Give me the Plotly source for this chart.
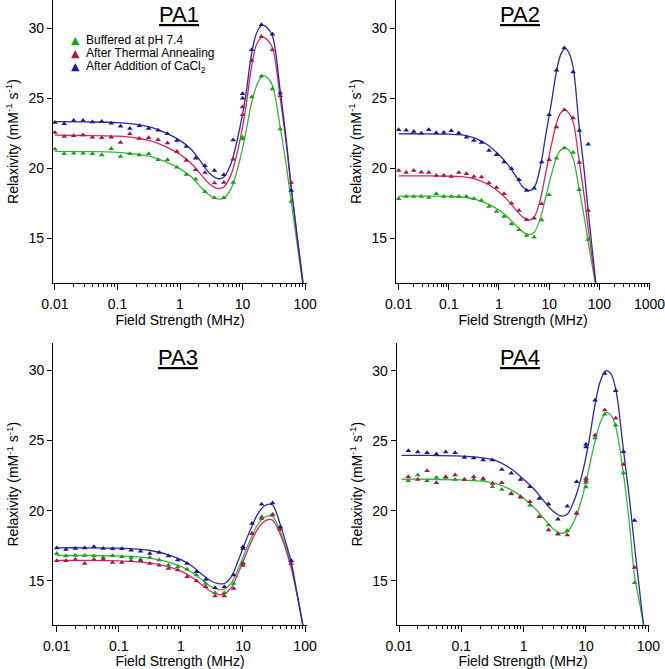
import plotly.graph_objects as go

# ---------------- data ----------------
FIELD_FFC = [0.01, 0.0141, 0.02, 0.0282, 0.0398, 0.0562, 0.0794, 0.112, 0.158, 0.224, 0.316,
             0.447, 0.631, 0.891, 1.26, 1.78, 2.51, 3.55, 5.01, 7.08, 10.0]
FIELD_HF = [10, 14, 20, 30, 40, 60]

pa1_field = FIELD_FFC + FIELD_HF
pa1_buffered = [21.36, 21.02, 21.07, 21.07, 21.02, 20.93, 21.38, 20.83, 21.02, 20.93, 21.02, 20.6, 20.6,
                20.07, 19.55, 19.21, 18.31, 17.88, 17.88, 18.98, 22.07, 22.2, 25.07, 26.55, 25.64, 22.79, 17.62]
pa1_annealed = [22.55, 22.26, 22.31, 22.36, 22.21, 22.17, 22.21, 21.83, 22.45, 22.12, 22.17, 22.02, 21.79,
                21.19, 20.55, 19.88, 19.69, 18.93, 18.98, 20.64, 24.36, 23.81, 27.69, 29.4, 28.45, 25.17, 18.98]
pa1_cacl2 = [23.26, 23.17, 23.4, 23.4, 23.29, 23.33, 23.2, 22.98, 22.83, 23.02, 22.83, 22.7, 22.45,
             21.98, 21.55, 20.7, 20.17, 19.83, 19.52, 22.0, 25.3, 24.98, 28.45, 30.24, 29.55, 25.36, 18.4]

pa2_field = FIELD_FFC + FIELD_HF[1:]
pa2_buffered = [17.81, 17.98, 17.98, 17.98, 17.9, 18.17, 17.98, 17.98, 17.98, 17.98, 17.81, 17.69, 17.26,
                16.9, 16.55, 16.02, 15.6, 15.19, 15.07, 16.3, 18.1, 20.71, 21.43, 21.12, 18.45, 14.9]
pa2_annealed = [19.83, 19.69, 19.83, 19.71, 19.69, 19.48, 19.48, 19.4, 19.69, 19.6, 19.4, 19.36, 18.93,
                18.62, 18.17, 17.5, 16.98, 16.31, 16.43, 17.45, 20.6, 22.93, 24.17, 23.57, 20.4, 16.98]
pa2_cacl2 = [22.74, 22.71, 22.62, 22.48, 22.74, 22.52, 22.55, 22.67, 22.5, 22.21, 21.98, 21.83, 21.26,
             20.95, 20.43, 19.95, 19.17, 18.4, 18.57, 20.43, 23.81, 26.98, 28.57, 26.86, 22.69, 21.71]

pa3_field = FIELD_FFC + FIELD_HF
pa3_buffered = [16.95, 16.76, 16.8, 16.8, 16.76, 16.66, 16.78, 16.71, 16.66, 16.52, 16.66, 16.47, 16.11,
                16.0, 15.81, 15.4, 14.81, 14.14, 14.14, 14.81, 16.28, 16.11, 18.37, 19.56, 19.75, 18.84, 16.42]
pa3_annealed = [16.42, 16.42, 16.52, 16.23, 16.52, 16.52, 16.3, 16.3, 16.42, 16.42, 16.23, 16.11, 15.88,
                15.76, 15.28, 15.0, 14.57, 13.91, 13.91, 14.45, 16.11, 16.23, 18.37, 19.44, 19.68, 18.65, 16.23]
pa3_cacl2 = [17.33, 17.23, 17.3, 17.33, 17.42, 17.3, 17.28, 17.28, 17.18, 17.11, 16.95, 17.02, 16.76,
             16.47, 16.23, 15.64, 15.09, 14.5, 14.57, 15.4, 17.42, 17.3, 19.08, 20.46, 20.55, 18.84, 16.42]

pa4_field = FIELD_FFC[1:] + FIELD_HF
pa4_buffered = [22.14, 22.55, 22.14, 22.38, 22.38, 22.24, 22.24, 22.24, 22.24, 21.71, 21.52, 21.19, 20.95,
                20.4, 19.57, 18.98, 18.38, 18.57, 19.86, 21.7, 22.0, 25.2, 26.9, 26.1, 22.7, 14.86]
pa4_annealed = [22.43, 22.24, 22.86, 22.0, 22.43, 22.55, 22.24, 22.43, 22.31, 21.95, 22.0, 21.24, 21.0,
                20.64, 19.57, 18.62, 18.33, 18.26, 19.81, 22.3, 22.15, 25.4, 27.2, 26.6, 23.3, 15.95]
pa4_cacl2 = [24.29, 24.19, 24.14, 24.05, 24.19, 24.14, 23.81, 23.76, 23.62, 23.62, 22.95, 22.67, 22.24,
             21.71, 20.88, 20.48, 19.4, 20.33, 22.07, 24.75, 24.55, 27.9, 29.81, 28.57, 24.21, 19.3]

# fitted curves, read at these fields
FIT_X = [0.01, 0.03, 0.1, 0.2, 0.35, 0.6, 1, 1.5, 2.2, 3, 4, 5, 6.5, 8.5, 11, 14, 17, 21, 25, 30, 40, 50, 60, 75, 95]
FIT_X4 = [0.011] + FIT_X[1:]

fit1_buffered = [21.2, 21.18, 21.13, 21.0, 20.8, 20.45, 19.95, 19.4, 18.6, 18.05, 17.8, 17.85, 18.5, 20.1,
                 22.3, 24.7, 25.95, 26.6, 26.45, 25.9, 22.9, 20.2, 17.6, 14.5, 11.2]
fit1_annealed = [22.35, 22.33, 22.28, 22.15, 21.92, 21.52, 20.98, 20.35, 19.5, 18.85, 18.55, 18.65, 19.5, 21.4,
                 24.0, 27.3, 28.9, 29.35, 29.15, 28.6, 25.0, 21.7, 18.6, 15.1, 11.5]
fit1_cacl2 = [23.32, 23.3, 23.25, 23.12, 22.9, 22.5, 21.98, 21.35, 20.4, 19.62, 19.25, 19.35, 20.3, 22.3,
              24.9, 28.2, 29.7, 30.2, 30.0, 29.45, 25.5, 22.0, 18.6, 15.0, 11.3]

fit2_buffered = [18.0, 18.0, 17.98, 17.92, 17.75, 17.45, 17.0, 16.5, 15.9, 15.45, 15.25, 15.4, 16.3, 17.9,
                 19.5, 20.75, 21.3, 21.45, 21.25, 20.7, 18.4, 16.5, 14.7, 12.7, 10.5]
fit2_annealed = [19.45, 19.45, 19.43, 19.37, 19.2, 18.85, 18.3, 17.7, 17.0, 16.5, 16.3, 16.5, 17.6, 19.6,
                 21.6, 23.2, 23.95, 24.15, 23.9, 23.3, 20.4, 18.0, 15.7, 13.1, 10.4]
fit2_cacl2 = [22.45, 22.45, 22.42, 22.35, 22.1, 21.65, 20.95, 20.25, 19.4, 18.65, 18.4, 18.6, 19.9, 22.3,
              24.6, 26.9, 28.1, 28.55, 28.2, 27.2, 22.8, 19.8, 16.9, 13.65, 10.2]

fit3_buffered = [16.8, 16.8, 16.77, 16.7, 16.58, 16.37, 16.02, 15.6, 15.05, 14.6, 14.38, 14.4, 14.85, 15.9,
                 17.1, 18.2, 18.95, 19.45, 19.62, 19.6, 18.5, 17.3, 16.1, 14.0, 11.6]
fit3_annealed = [16.45, 16.45, 16.42, 16.35, 16.23, 16.02, 15.68, 15.25, 14.7, 14.25, 14.02, 14.05, 14.5, 15.6,
                 16.8, 17.9, 18.65, 19.15, 19.35, 19.32, 18.3, 17.1, 15.9, 13.9, 11.5]
fit3_cacl2 = [17.35, 17.35, 17.32, 17.25, 17.12, 16.88, 16.5, 16.05, 15.45, 15.0, 14.8, 14.8, 15.3, 16.5,
              17.8, 18.9, 19.7, 20.25, 20.45, 20.4, 19.0, 17.6, 16.3, 14.0, 11.5]

fit4_buffered = [22.25, 22.25, 22.2, 22.12, 21.95, 21.55, 20.9, 20.2, 19.35, 18.7, 18.4, 18.5, 19.3, 20.8,
                 22.9, 25.0, 26.3, 27.0, 26.85, 26.0, 22.6, 19.0, 15.4, 13.05, 10.6]
fit4_cacl2 = [23.95, 23.95, 23.9, 23.8, 23.6, 23.05, 22.25, 21.5, 20.6, 19.95, 19.62, 19.75, 20.75, 22.45,
              24.8, 27.6, 29.25, 30.0, 29.8, 28.7, 24.3, 20.8, 17.5, 13.7, 9.7]

SERIES_NAMES = ["Buffered at pH 7.4", "After Thermal Annealing", "After Addition of CaCl<sub>2</sub>"]
PANEL_TITLES = ["PA1", "PA2", "PA3", "PA4"]
X_TICKS = [0.01, 0.1, 1, 10, 100, 1000]
X_TICK_TEXT = ["0.01", "0.1", "1", "10", "100", "1000"]
Y_TICKS = [15, 20, 25, 30]

# ---------------- styling ----------------
W, H = 665, 669
FONT = "Arial, Liberation Sans, sans-serif"
LINE_COL = ["#3db33d", "#d42a63", "#2a2a9e"]
MARK_COL = ["#1e9b1e", "#a31a4a", "#1a1a8a"]

panels = [
    dict(field=pa1_field, data=[pa1_buffered, pa1_annealed, pa1_cacl2],
         fx=FIT_X, fits=[fit1_buffered, fit1_annealed, fit1_cacl2],
         xpx=(53, 307), ypx=(0, 283), xr=[-2.03, 2.03], yr=[11.8, 32.0], title=(178.7, 15)),
    dict(field=pa2_field, data=[pa2_buffered, pa2_annealed, pa2_cacl2],
         fx=FIT_X, fits=[fit2_buffered, fit2_annealed, fit2_cacl2],
         xpx=(396, 650), ypx=(0, 283), xr=[-2.053, 3.01], yr=[11.8, 32.0], title=(520, 15)),
    dict(field=pa3_field, data=[pa3_buffered, pa3_annealed, pa3_cacl2],
         fx=FIT_X, fits=[fit3_buffered, fit3_annealed, fit3_cacl2],
         xpx=(53.3, 306.7), ypx=(343.3, 625), xr=[-2.055, 2.027], yr=[11.84, 31.94], title=(178.3, 358)),
    dict(field=pa4_field, data=[pa4_buffered, pa4_annealed, pa4_cacl2],
         fx=FIT_X4, fits=[fit4_buffered, None, fit4_cacl2],
         xpx=(396.7, 649.3), ypx=(343.3, 625), xr=[-2.037, 2.016], yr=[11.84, 31.96], title=(520, 358)),
]

minor_vals = [m * 10 ** e for e in range(-2, 3) for m in range(2, 10)]

fig = go.Figure()
annotations = []
for i, p in enumerate(panels):
    n = i + 1
    xa = "x" if n == 1 else f"x{n}"
    ya = "y" if n == 1 else f"y{n}"
    for s in range(3):
        if p["fits"][s] is not None:
            fig.add_trace(go.Scatter(x=p["fx"], y=p["fits"][s], mode="lines", xaxis=xa, yaxis=ya,
                                     line=dict(color=LINE_COL[s], width=1.3, shape="spline", smoothing=1.0),
                                     showlegend=False, hoverinfo="skip"))
    for s in range(3):
        fig.add_trace(go.Scatter(x=p["field"], y=p["data"][s], mode="markers", xaxis=xa, yaxis=ya,
                                 marker=dict(symbol="triangle-up", size=5, color=MARK_COL[s]),
                                 name=SERIES_NAMES[s], showlegend=False))
    x0, x1 = p["xpx"]
    y0, y1 = p["ypx"]
    xkey = "xaxis" if n == 1 else f"xaxis{n}"
    ykey = "yaxis" if n == 1 else f"yaxis{n}"
    fig.update_layout(**{
        xkey: dict(type="log", range=p["xr"], domain=[x0 / W, x1 / W], anchor=ya, automargin=False,
                   tickvals=X_TICKS, ticktext=X_TICK_TEXT, ticks="outside", ticklen=6, tickwidth=1,
                   tickcolor="black", showline=True, linecolor="black", linewidth=1.2,
                   showgrid=False, zeroline=False, ticklabelstandoff=2, ticklabeloverflow="allow",
                   tickfont=dict(family=FONT, size=14, color="black"),
                   minor=dict(tickvals=minor_vals, ticks="outside", ticklen=3, tickwidth=1,
                              tickcolor="black", showgrid=False),
                   title=dict(text="Field Strength (MHz)", standoff=1,
                              font=dict(family=FONT, size=14, color="black"))),
        ykey: dict(range=p["yr"], domain=[1 - y1 / H, 1 - y0 / H], anchor=xa, automargin=False,
                   tickvals=Y_TICKS, ticks="outside", ticklen=5, tickwidth=1, tickcolor="black",
                   showline=True, linecolor="black", linewidth=1.2, showgrid=False, zeroline=False,
                   tickfont=dict(family=FONT, size=14, color="black"),
                   title=dict(text="Relaxivity (mM<sup>-1</sup> s<sup>-1</sup>)", standoff=6,
                              font=dict(family=FONT, size=14, color="black"))),
    })
    tx, ty = p["title"]
    annotations.append(dict(text="<u>" + PANEL_TITLES[i] + "</u>", xref="paper", yref="paper",
                            x=tx / W, y=1 - ty / H, xanchor="center", yanchor="middle", showarrow=False,
                            font=dict(family=FONT, size=22, color="black")))

# legend (top-left of PA1)
leg_rows = [40.5, 53.5, 66.5]
for s in range(3):
    annotations.append(dict(text="▲", xref="paper", yref="paper", x=75 / W, y=1 - leg_rows[s] / H,
                            xanchor="center", yanchor="middle", showarrow=False,
                            font=dict(family="DejaVu Sans", size=11, color=MARK_COL[s])))
    annotations.append(dict(text=SERIES_NAMES[s], xref="paper", yref="paper", x=84 / W, y=1 - leg_rows[s] / H,
                            xanchor="left", yanchor="middle", showarrow=False,
                            font=dict(family=FONT, size=12, color="black")))

fig.update_layout(width=W, height=H, margin=dict(l=0, r=0, t=0, b=0, autoexpand=False),
                  paper_bgcolor="white", plot_bgcolor="white", showlegend=False,
                  annotations=annotations)

fig.write_html("out.html", config={"displayModeBar": False},
               post_script="document.body.style.margin='0';")
